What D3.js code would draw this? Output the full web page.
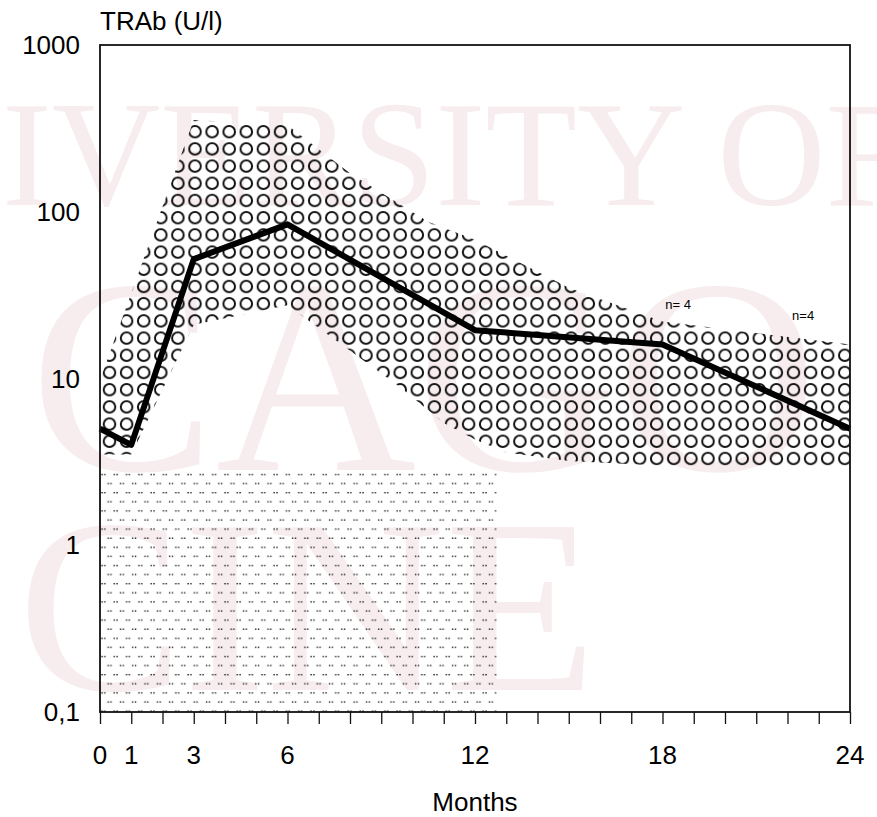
<!DOCTYPE html>
<html>
<head>
<meta charset="utf-8">
<script src="https://cdn.jsdelivr.net/npm/d3@7.9.0/dist/d3.min.js"></script>
<style>
  body { margin: 0; background: #fff; }
  svg { display: block; font-family: 'Liberation Sans', Arial, sans-serif; }
</style>
</head>
<body>
<div id="chart"></div>
<script>
// median TRAb curve
const months = [0, 1, 3, 6, 12, 18, 24];
const median = [5, 4, 52, 84, 19.5, 16, 5];

// shaded range (upper and lower edge of the circle band)
const upperMonths = [0, 3, 6, 8, 10.5, 12, 15, 18, 24];
const upperValues = [9.8, 355, 330, 170, 87, 68, 35, 22, 16];
const lowerMonths = [0, 1, 3, 6, 9.6, 11, 12, 13, 15, 18, 24];
const lowerValues = [3.5, 3.5, 21, 27.5, 8.9, 5.4, 4.3, 3.6, 3.2, 3.0, 3.0];

// normal range (dotted block)
const normalMonths = [0, 12.7];
const normalLevels = [0.1, 2.9];

const xTicks = [0, 1, 3, 6, 12, 18, 24];
const yTicks = [1000, 100, 10, 1, 0.1];
const yTickLabels = ['1000', '100', '10', '1', '0,1'];
const notes = [{ m: 18.5, v: 26, text: 'n= 4' }, { m: 22.5, v: 22.5, text: 'n=4' }];

const width = 877, height = 817;
const margin = { top: 45, right: 27, bottom: 105, left: 100 };

const svg = d3.select('#chart').append('svg')
  .attr('width', width).attr('height', height);

// faint scan watermark
const wm = svg.append('g').attr('fill', '#f7ecee')
  .style('font-family', "'Liberation Serif', 'DejaVu Serif', serif");
wm.append('text').attr('x', 2).attr('y', 205).style('font-size', '150px').text('IVERSITY OF');
wm.append('text').attr('x', 30).attr('y', 470).style('font-size', '278px').text('CAGO');
wm.append('text').attr('x', 18).attr('y', 690).style('font-size', '248px').text('CINE');

const x = d3.scaleLinear().domain([0, 24]).range([margin.left, width - margin.right]);
const y = d3.scaleLog().domain([0.1, 1000]).range([height - margin.bottom, margin.top]);

const defs = svg.append('defs');

const circ = defs.append('pattern').attr('id', 'circles')
  .attr('patternUnits', 'userSpaceOnUse')
  .attr('x', 6.9 - 8.55).attr('y', 11.3 - 8.6)
  .attr('width', 17.1).attr('height', 17.2);
circ.append('circle').attr('cx', 8.55).attr('cy', 8.6).attr('r', 5.8)
  .attr('fill', 'none').attr('stroke', '#111').attr('stroke-width', 2);

const dots = defs.append('pattern').attr('id', 'dots')
  .attr('patternUnits', 'userSpaceOnUse')
  .attr('x', 100).attr('y', 470)
  .attr('width', 12.3).attr('height', 18.2);
[[2, 4.5], [4.8, 4.5], [8.15, 13.6], [10.95, 13.6]].forEach(([cx, cy]) => {
  dots.append('rect').attr('x', cx - 0.7).attr('y', cy - 0.7)
    .attr('width', 1.4).attr('height', 1.4).attr('fill', '#222');
});

// normal range block
svg.append('rect')
  .attr('x', x(normalMonths[0]))
  .attr('y', y(normalLevels[1]))
  .attr('width', x(normalMonths[1]) - x(normalMonths[0]))
  .attr('height', y(normalLevels[0]) - y(normalLevels[1]))
  .attr('fill', 'url(#dots)');

// circle band
const upperPts = upperMonths.map((m, i) => [x(m), y(upperValues[i])]);
const lowerPts = lowerMonths.map((m, i) => [x(m), y(lowerValues[i])]).reverse();
svg.append('path')
  .attr('d', d3.line().curve(d3.curveLinearClosed)(upperPts.concat(lowerPts)))
  .attr('fill', 'url(#circles)');

// median line
svg.append('path')
  .datum(months.map((m, i) => [m, median[i]]))
  .attr('d', d3.line().x(d => x(d[0])).y(d => y(d[1])))
  .attr('fill', 'none').attr('stroke', '#000')
  .attr('stroke-width', 6).attr('stroke-linejoin', 'round');

// frame
svg.append('rect')
  .attr('x', x(0)).attr('y', y(1000))
  .attr('width', x(24) - x(0)).attr('height', y(0.1) - y(1000))
  .attr('fill', 'none').attr('stroke', '#111').attr('stroke-width', 1.8);

// x axis: ticks every month, labels only at sample points
const xAxis = svg.append('g').attr('transform', `translate(0,${y(0.1)})`)
  .call(d3.axisBottom(x).tickValues(d3.range(0, 25)).tickSize(12).tickFormat(''));
xAxis.select('.domain').remove();
xAxis.selectAll('line').attr('stroke', '#111').attr('stroke-width', 1.3);

svg.append('g').selectAll('text').data(xTicks).join('text')
  .attr('x', d => x(d)).attr('y', y(0.1) + 52)
  .attr('text-anchor', 'middle').style('font-size', '26px')
  .text(d => d);

svg.append('g').selectAll('text').data(yTicks).join('text')
  .attr('x', 80).attr('y', d => y(d)).attr('dy', '0.35em')
  .attr('text-anchor', 'end').style('font-size', '26px')
  .text((d, i) => yTickLabels[i]);

svg.append('text').attr('x', 100).attr('y', 30)
  .style('font-size', '26px').text('TRAb (U/l)');

svg.append('text').attr('x', x(12)).attr('y', 811)
  .attr('text-anchor', 'middle').style('font-size', '26px').text('Months');

svg.append('g').selectAll('text').data(notes).join('text')
  .attr('x', d => x(d.m)).attr('y', d => y(d.v))
  .attr('text-anchor', 'middle').style('font-size', '13px')
  .text(d => d.text);
</script>
</body>
</html>
